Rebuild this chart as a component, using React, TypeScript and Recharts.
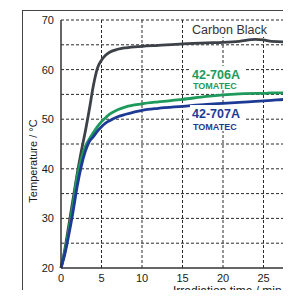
import React from "react";
import { LineChart, Line, XAxis, YAxis, CartesianGrid } from "recharts";

// irradiation time (min)
const times = [0, 0.5, 1, 1.5, 2, 2.5, 3, 3.5, 4, 4.5, 5, 5.5, 6, 7, 8, 10, 12, 15, 18, 20, 22, 24, 25, 26, 28, 30];

// temperature (°C)
const carbonBlack = [20, 24, 29, 34, 39, 43.5, 47.5, 52, 56.8, 60.3, 61.9, 62.9, 63.5, 64.1, 64.4, 64.7, 64.9, 65.2, 65.4, 65.5, 65.7, 66.1, 66.0, 65.7, 65.6, 65.6];
const tomatec706 = [20, 23.5, 28, 33, 38.5, 42, 44.5, 46, 47.3, 48.5, 49.5, 50.3, 51, 51.9, 52.5, 53.1, 53.5, 54, 54.6, 54.9, 55.1, 55.2, 55.2, 55.3, 55.3, 55.3];
const tomatec707 = [20, 23, 27, 31.5, 36.5, 40.5, 43.5, 45.5, 46.5, 47.6, 48.5, 49.2, 49.7, 50.5, 51, 51.8, 52.2, 52.6, 53, 53.2, 53.4, 53.6, 53.7, 53.8, 54, 54];

const xTicks = [0, 5, 10, 15, 20, 25, 30];
const yTicks = [20, 30, 40, 50, 60, 70];
const gridX = [5, 10, 15, 20, 25, 30];
const gridY = [25, 30, 35, 40, 45, 50, 55, 60, 65, 70];

const data = times.map((t, i) => ({
  t,
  cb: carbonBlack[i],
  a706: tomatec706[i],
  a707: tomatec707[i],
}));

const font = "'Liberation Sans', Arial, sans-serif";
const tick = { fontSize: 11, fill: "#1a1a1a", fontFamily: font };

export default function App() {
  return (
    <div
      style={{
        position: "relative",
        margin: -8,
        width: 291,
        height: 298,
        overflow: "hidden",
        background: "#fff",
        fontFamily: font,
      }}
    >
      {/* page edge + outer frame */}
      <div style={{ position: "absolute", left: 5, top: 0, width: 1, height: 298, background: "#c8c8c8" }} />
      <div
        style={{
          position: "absolute",
          left: 22,
          top: 10,
          width: 320,
          height: 320,
          borderLeft: "1.5px solid #444",
          borderTop: "1.5px solid #444",
        }}
      />
      <div style={{ position: "absolute", left: 25, top: -5, fontSize: 12.5, lineHeight: "12px", color: "#222" }}>
        Coated surface
      </div>

      <div style={{ position: "absolute", left: 0, top: 0 }}>
        <LineChart width={310} height={298} data={data} margin={{ top: 20, right: 6, left: 0, bottom: 0 }}>
          <CartesianGrid
            stroke="#2a2a2a"
            strokeDasharray="3 2"
            horizontalValues={gridY}
            verticalValues={gridX}
          />
          <XAxis
            dataKey="t"
            type="number"
            domain={[0, 30]}
            ticks={xTicks}
            tickLine={false}
            tickSize={0}
            tickMargin={6}
            height={30}
            tick={tick}
            axisLine={{ stroke: "#333", strokeWidth: 1.5 }}
            interval={0}
          />
          <YAxis
            type="number"
            domain={[20, 70]}
            ticks={yTicks}
            tickLine={false}
            tickSize={0}
            tickMargin={7}
            width={61}
            tick={tick}
            axisLine={{ stroke: "#333", strokeWidth: 1.5 }}
            interval={0}
          />
          <Line type="monotone" dataKey="cb" stroke="#3c4247" strokeWidth={2.8} dot={false} isAnimationActive={false} />
          <Line type="monotone" dataKey="a706" stroke="#1e9a5c" strokeWidth={2.8} dot={false} isAnimationActive={false} />
          <Line type="monotone" dataKey="a707" stroke="#1d3b95" strokeWidth={2.8} dot={false} isAnimationActive={false} />
        </LineChart>
      </div>

      <svg width={291} height={298} style={{ position: "absolute", left: 0, top: 0 }}>
        <rect x={189} y={21} width={82} height={16} fill="#fff" />
        <text x={192} y={34} fontSize={12.5} fill="#333" fontFamily={font}>Carbon Black</text>

        <rect x={190} y={66} width={54} height={24} fill="#fff" />
        <text x={192} y={78.5} fontSize={12.5} fontWeight="bold" fill="#1e9a5c" fontFamily={font}>42-706A</text>
        <text x={193} y={88.5} fontSize={9} fontWeight="bold" fill="#1e9a5c" fontFamily={font}>TOMATEC</text>

        <rect x={190} y={105} width={54} height={26} fill="#fff" />
        <text x={192} y={117.5} fontSize={12.5} fontWeight="bold" fill="#1d3b95" fontFamily={font}>42-707A</text>
        <text x={193} y={129.5} fontSize={9} fontWeight="bold" fill="#1d3b95" fontFamily={font}>TOMATEC</text>

        <text
          x={37}
          y={161}
          fontSize={11}
          fill="#1a1a1a"
          fontFamily={font}
          textAnchor="middle"
          transform="rotate(-90 37 161)"
        >
          Temperature / °C
        </text>
        <text x={173} y={295} fontSize={12} fill="#1a1a1a" fontFamily={font}>Irradiation time / min</text>
      </svg>
    </div>
  );
}
